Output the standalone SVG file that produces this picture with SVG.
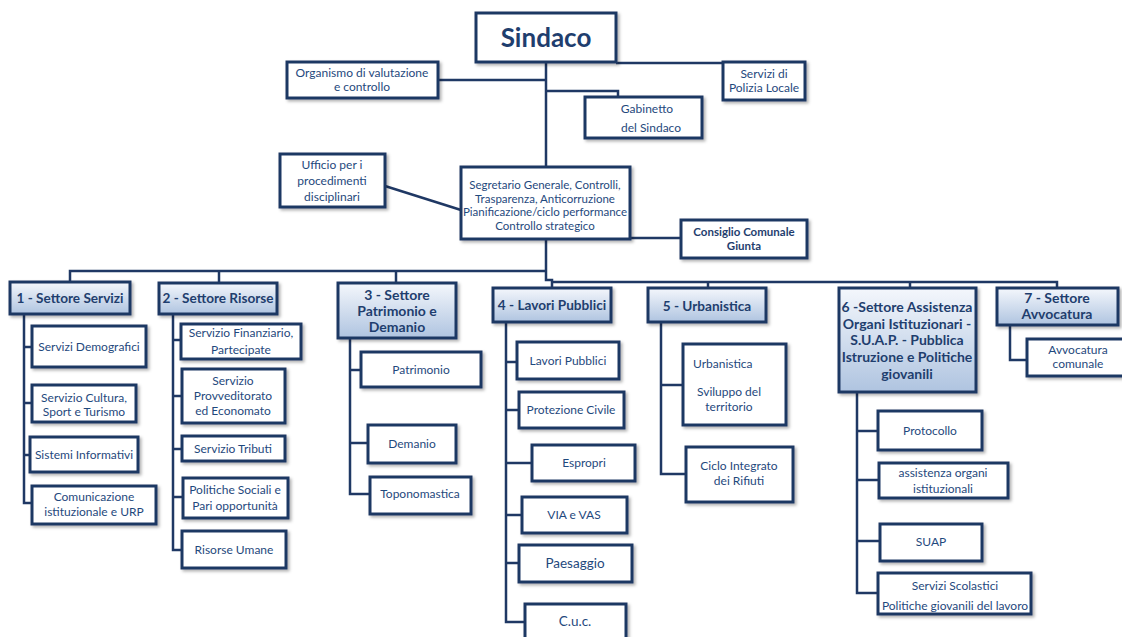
<svg xmlns="http://www.w3.org/2000/svg" width="1122" height="637" viewBox="0 0 1122 637">
<defs>
<linearGradient id="hg" x1="0" y1="0" x2="0" y2="1">
<stop offset="0" stop-color="#F4F7FC"/>
<stop offset="1" stop-color="#AFC4E0"/>
</linearGradient>
<filter id="sh" x="-10%" y="-10%" width="130%" height="140%">
<feDropShadow dx="2" dy="2" stdDeviation="1.5" flood-color="#000" flood-opacity="0.3"/>
</filter>
</defs>
<style>
.b{fill:#fff;stroke:#1F3864;stroke-width:3;filter:url(#sh)}
.h{fill:url(#hg);stroke:#1F3864;stroke-width:3;filter:url(#sh)}
text{font-family:Lato,"Liberation Sans",sans-serif;font-size:12px;fill:#1F497D;text-anchor:middle}
.bd{font-weight:bold;font-size:13.6px;fill:#1F3E6E}
.bl{font-weight:bold;font-size:14px;fill:#1F3E6E}
.sm{font-size:11.5px}
.ln{stroke:#1F3864;stroke-width:2.5;fill:none}
</style>
<rect width="1122" height="637" fill="#fff"/>
<g id="connectors" class="ln">
<path d="M546,62 V280 H552 V288"/>
<path d="M70,282 V271 H546"/>
<path d="M219,271 V283"/>
<path d="M396,271 V283"/>
<path d="M552,282 H1057 V288"/>
<path d="M708,282 V288"/>
<path d="M910,282 V288"/>
<path d="M438,80 H546"/>
<path d="M616,63 H723"/>
<path d="M546,91 H618 V97"/>
<path d="M385,186 L461,210"/>
<path d="M630,238 H681"/>
<path d="M24,314 V503 H32 M24,347 H32 M24,403 H32 M24,455 H30"/>
<path d="M173,314 V550 H182 M173,340 H181 M173,396 H182 M173,449 H182 M173,497 H183"/>
<path d="M350,338 V494 H370 M350,370 H361 M350,443 H368"/>
<path d="M506,322 V622 H525 M506,362 H517 M506,410 H519 M506,463 H532 M506,515 H522 M506,563 H519"/>
<path d="M661,322 V474 H686 M661,385 H683"/>
<path d="M857,392 V593 H878 M857,431 H878 M857,480 H879 M857,541 H880"/>
<path d="M1010,325 V360 H1027"/>
</g>
<g id="sindaco"><rect class="b" x="476" y="13" width="140" height="49"/><text x="546" y="47" style="font-size:26px;font-weight:bold;fill:#1F3E6E">Sindaco</text></g>
<g id="organismo"><rect class="b" x="287" y="62" width="151" height="36"/><text x="362" y="77">Organismo di valutazione</text><text x="362" y="91">e controllo</text></g>
<g id="polizia"><rect class="b" x="723" y="62" width="82" height="38"/><text x="764" y="78">Servizi di</text><text x="764" y="92">Polizia Locale</text></g>
<g id="gabinetto"><rect class="b" x="585" y="97" width="117" height="41"/><text x="647" y="113">Gabinetto</text><text x="651" y="132">del Sindaco</text></g>
<g id="ufficio"><rect class="b" x="280" y="154" width="105" height="53"/><text x="332" y="169">Ufficio per i</text><text x="332" y="185">procedimenti</text><text x="332" y="201">disciplinari</text></g>
<g id="segretario"><rect class="b" x="461" y="167" width="169" height="72"/><text class="sm" x="545" y="189">Segretario Generale, Controlli,</text><text class="sm" x="545" y="203">Trasparenza, Anticorruzione</text><text class="sm" x="545" y="216">Pianificazione/ciclo performance</text><text class="sm" x="545" y="230">Controllo strategico</text></g>
<g id="consiglio"><rect class="b" x="681" y="220" width="126" height="38"/><text x="744" y="236" style="font-weight:bold;font-size:11.5px;fill:#1F3E6E">Consiglio Comunale</text><text x="744" y="250" style="font-weight:bold;font-size:11.5px;fill:#1F3E6E">Giunta</text></g>
<g id="s1"><rect class="h" x="10" y="282" width="120" height="32"/><text class="bd" x="70" y="303">1 - Settore Servizi</text></g>
<g id="s2"><rect class="h" x="159" y="283" width="118" height="31"/><text class="bd" x="218" y="303">2 - Settore Risorse</text></g>
<g id="s3"><rect class="h" x="338" y="283" width="118" height="55"/><text class="bl" x="397" y="300">3 - Settore</text><text class="bl" x="397" y="316">Patrimonio e</text><text class="bl" x="397" y="332">Demanio</text></g>
<g id="s4"><rect class="h" x="493" y="288" width="118" height="34"/><text class="bd" x="552" y="310">4 - Lavori Pubblici</text></g>
<g id="s5"><rect class="h" x="648" y="288" width="118" height="34"/><text class="bd" x="707" y="311">5 - Urbanistica</text></g>
<g id="s6"><rect class="h" x="839" y="288" width="137" height="104"/><text class="bl" x="907" y="312">6 -Settore Assistenza</text><text class="bl" x="907" y="329">Organi Istituzionari -</text><text class="bl" x="907" y="345">S.U.A.P. - Pubblica</text><text class="bl" x="907" y="362">Istruzione e Politiche</text><text class="bl" x="907" y="379">giovanili</text></g>
<g id="s7"><rect class="h" x="997" y="288" width="121" height="37"/><text class="bl" x="1057" y="303">7 - Settore</text><text class="bl" x="1057" y="319">Avvocatura</text></g>
<g id="demografici"><rect class="b" x="32" y="326" width="114" height="41"/><text x="89" y="351">Servizi Demografici</text></g>
<g id="cultura"><rect class="b" x="32" y="385" width="104" height="37"/><text x="84" y="402">Servizio Cultura,</text><text x="84" y="416">Sport e Turismo</text></g>
<g id="informativi"><rect class="b" x="30" y="437" width="108" height="35"/><text x="84" y="459">Sistemi Informativi</text></g>
<g id="comunicazione"><rect class="b" x="32" y="486" width="124" height="38"/><text x="94" y="501">Comunicazione</text><text x="94" y="516">istituzionale e URP</text></g>
<g id="finanziario"><rect class="b" x="181" y="324" width="120" height="35"/><text x="241" y="337">Servizio Finanziario,</text><text x="241" y="354">Partecipate</text></g>
<g id="provveditorato"><rect class="b" x="182" y="369" width="103" height="54"/><text x="233" y="385">Servizio</text><text x="233" y="400">Provveditorato</text><text x="233" y="415">ed Economato</text></g>
<g id="tributi"><rect class="b" x="182" y="436" width="103" height="25"/><text x="233" y="453">Servizio Tributi</text></g>
<g id="politiche"><rect class="b" x="183" y="478" width="105" height="40"/><text x="235" y="494">Politiche Sociali e</text><text x="235" y="510">Pari opportunità</text></g>
<g id="risorse"><rect class="b" x="182" y="531" width="104" height="37"/><text x="234" y="554">Risorse Umane</text></g>
<g id="patrimonio"><rect class="b" x="361" y="352" width="120" height="35"/><text x="421" y="374">Patrimonio</text></g>
<g id="demanio"><rect class="b" x="368" y="425" width="88" height="38"/><text x="412" y="448">Demanio</text></g>
<g id="toponomastica"><rect class="b" x="370" y="477" width="101" height="37"/><text x="420" y="498">Toponomastica</text></g>
<g id="lavori"><rect class="b" x="517" y="342" width="102" height="37"/><text x="568" y="365">Lavori Pubblici</text></g>
<g id="protezione"><rect class="b" x="519" y="392" width="105" height="36"/><text x="571" y="414">Protezione Civile</text></g>
<g id="espropri"><rect class="b" x="532" y="445" width="103" height="36"/><text x="584" y="467">Espropri</text></g>
<g id="via"><rect class="b" x="522" y="497" width="105" height="36"/><text x="574" y="519">VIA e VAS</text></g>
<g id="paesaggio"><rect class="b" x="519" y="545" width="113" height="37"/><text x="575" y="568" style="font-size:13.5px">Paesaggio</text></g>
<g id="cuc"><rect class="b" x="525" y="604" width="101" height="40"/><text x="575" y="626" style="font-size:13.5px">C.u.c.</text></g>
<g id="urbanistica"><rect class="b" x="683" y="344" width="103" height="81"/><text x="693" y="368" style="text-anchor:start">Urbanistica</text><text x="729" y="396">Sviluppo del</text><text x="729" y="411">territorio</text></g>
<g id="rifiuti"><rect class="b" x="686" y="447" width="107" height="55"/><text x="739" y="470">Ciclo Integrato</text><text x="739" y="485">dei Rifiuti</text></g>
<g id="protocollo"><rect class="b" x="878" y="411" width="104" height="39"/><text x="930" y="435">Protocollo</text></g>
<g id="assistenza"><rect class="b" x="879" y="463" width="129" height="35"/><text x="943" y="477">assistenza organi</text><text x="943" y="493">istituzionali</text></g>
<g id="suap"><rect class="b" x="880" y="524" width="102" height="37"/><text x="931" y="546">SUAP</text></g>
<g id="scolastici"><rect class="b" x="878" y="573" width="153" height="41"/><text x="955" y="590">Servizi Scolastici</text><text x="955" y="610">Politiche giovanili del lavoro</text></g>
<g id="avvocatura"><rect class="b" x="1027" y="339" width="100" height="37"/><text x="1078" y="354">Avvocatura</text><text x="1078" y="368">comunale</text></g>
</svg>
